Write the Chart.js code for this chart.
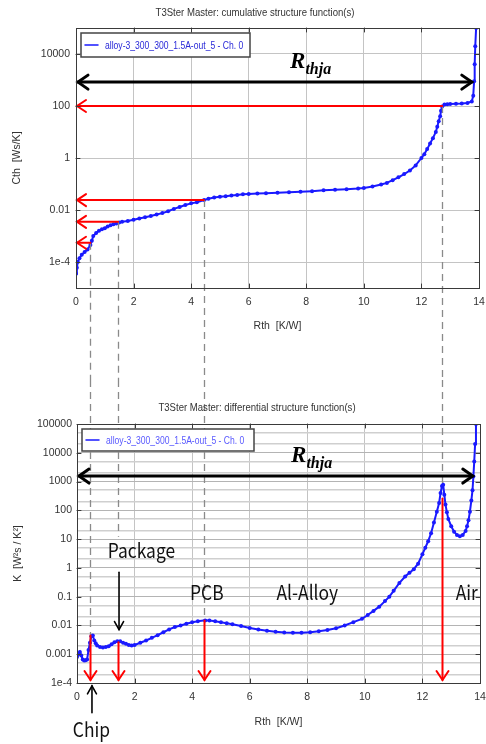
<!DOCTYPE html>
<html>
<head>
<meta charset="utf-8">
<script src="https://cdn.jsdelivr.net/npm/chart.js@4.4.1/dist/chart.umd.min.js"></script>
<style>
  body { margin: 0; background: #fff; }
  canvas { display: block; }
</style>
</head>
<body>
<canvas id="cum" width="486" height="380"></canvas>
<canvas id="diff" width="486" height="364"></canvas>
<script>
// cumulative structure function: Rth [K/W] vs Cth [Ws/K]
const cumRth = [0, 0.03, 0.06, 0.12, 0.2, 0.3, 0.4, 0.5, 0.55, 0.6, 0.7, 0.8, 0.9, 1.0, 1.1, 1.2, 1.3, 1.4, 1.5, 1.6,
  1.8, 2.0, 2.2, 2.4, 2.6, 2.8, 3.0, 3.2, 3.4, 3.6, 3.8, 4.0, 4.2, 4.45, 4.6, 4.8, 5.0, 5.2, 5.4, 5.6,
  5.8, 6.0, 6.3, 6.6, 7.0, 7.4, 7.8, 8.2, 8.6, 9.0, 9.4, 9.8, 10.0, 10.3, 10.6, 10.8, 11.0, 11.2, 11.4, 11.6,
  11.8, 12.0, 12.1, 12.2, 12.3, 12.4, 12.5, 12.55, 12.6, 12.65, 12.68, 12.72, 12.8, 12.9, 13.0, 13.2, 13.4, 13.6, 13.75, 13.8,
  13.83, 13.85, 13.87, 13.9];
const cumCth = [3.5e-5, 6e-5, 1.0e-4, 1.4e-4, 1.9e-4, 2.4e-4, 3.0e-4, 4.5e-4, 6.5e-4, 1.0e-3, 1.3e-3, 1.6e-3, 1.8e-3, 2.0e-3, 2.3e-3, 2.6e-3, 2.8e-3, 3.0e-3, 3.3e-3, 3.5e-3,
  3.8e-3, 4.2e-3, 4.7e-3, 5.3e-3, 5.9e-3, 6.7e-3, 7.6e-3, 9.0e-3, 1.1e-2, 1.3e-2, 1.55e-2, 1.8e-2, 2.0e-2, 2.4e-2, 2.7e-2, 3.0e-2, 3.2e-2, 3.4e-2, 3.6e-2, 3.8e-2,
  4.0e-2, 4.1e-2, 4.3e-2, 4.4e-2, 4.6e-2, 4.8e-2, 5.0e-2, 5.3e-2, 5.7e-2, 6.0e-2, 6.3e-2, 6.7e-2, 7.0e-2, 8.0e-2, 9.5e-2, 0.11, 0.14, 0.18, 0.24, 0.33,
  0.52, 1.0, 1.4, 2.2, 3.6, 5.8, 10, 16, 26, 40, 65, 95, 115, 118, 120, 122, 125, 130, 150, 250,
  900, 4000, 2e4, 1e5];

// differential structure function: Rth [K/W] vs K [W²s/K²]
const diffRth = [0, 0.05, 0.1, 0.15, 0.2, 0.25, 0.3, 0.35, 0.4, 0.45, 0.5, 0.55, 0.6, 0.65, 0.7, 0.8, 0.9, 1.0, 1.1, 1.2,
  1.3, 1.4, 1.5, 1.6, 1.7, 1.8, 1.9, 2.0, 2.2, 2.4, 2.6, 2.8, 3.0, 3.2, 3.4, 3.6, 3.8, 4.0, 4.2, 4.45,
  4.6, 4.8, 5.0, 5.2, 5.4, 5.7, 6.0, 6.3, 6.6, 6.9, 7.2, 7.5, 7.8, 8.1, 8.4, 8.7, 9.0, 9.3, 9.6, 9.9,
  10.1, 10.3, 10.5, 10.7, 10.85, 11.0, 11.2, 11.4, 11.55, 11.7, 11.85, 12.0, 12.1, 12.2, 12.3, 12.4, 12.5, 12.58, 12.63, 12.68,
  12.72, 12.76, 12.8, 12.85, 12.9, 13.0, 13.1, 13.2, 13.3, 13.4, 13.5, 13.55, 13.6, 13.65, 13.7, 13.74, 13.77, 13.8, 13.83, 13.86];
const diffK = [8e-4, 1.0e-3, 1.2e-3, 9e-4, 6.5e-4, 6e-4, 6.2e-4, 6.5e-4, 1.4e-3, 2.5e-3, 4.2e-3, 4.5e-3, 3.0e-3, 2.4e-3, 2.0e-3, 1.8e-3, 1.7e-3, 1.8e-3, 1.9e-3, 2.2e-3,
  2.6e-3, 2.8e-3, 2.8e-3, 2.5e-3, 2.3e-3, 2.1e-3, 2.0e-3, 2.1e-3, 2.5e-3, 3.0e-3, 3.7e-3, 4.6e-3, 5.8e-3, 7.3e-3, 8.8e-3, 1.0e-2, 1.15e-2, 1.3e-2, 1.4e-2, 1.5e-2,
  1.48e-2, 1.4e-2, 1.3e-2, 1.2e-2, 1.1e-2, 9.5e-3, 8.2e-3, 7.2e-3, 6.5e-3, 6.0e-3, 5.7e-3, 5.6e-3, 5.6e-3, 5.8e-3, 6.3e-3, 7.0e-3, 8.0e-3, 1.0e-2, 1.3e-2, 1.7e-2,
  2.3e-2, 3.2e-2, 4.5e-2, 7e-2, 0.1, 0.16, 0.3, 0.5, 0.68, 0.9, 1.4, 3.0, 5, 8.5, 16, 38, 90, 180, 400, 700,
  780, 350, 160, 85, 50, 28, 18, 14, 12.5, 14, 19, 28, 45, 90, 220, 500, 1500, 5000, 2e4, 1e5];

// tick labels
const cumTickValues = [1e-4, 1e-2, 1, 100, 10000];
const cumTickLabels = ['1e-4', '0.01', '1', '100', '10000'];
const diffTickValues = [1e-4, 1e-3, 1e-2, 0.1, 1, 10, 100, 1000, 10000, 100000];
const diffTickLabels = ['1e-4', '0.001', '0.01', '0.1', '1', '10', '100', '1000', '10000', '100000'];
const minorSteps = [2, 5];

// marked layers (Chip, Package, PCB, Air boundary)
const markRth = [0.5, 1.46, 4.44, 12.72];
const markCth = [5.5e-4, 3.5e-3, 2.4e-2, 100];
const dashEndK = [4.5e-3, 12, 1.5e-2, 780];
const redStartK = [4.5e-3, 2.6e-3, 1.5e-2, 260];

const labelText = ['Package', 'PCB', 'Al-Alloy', 'Air', 'Chip'];
const labelRth = [2.24, 4.51, 8.0, 13.54, 0.5];
const labelK = [2.2, 0.077, 0.077, 0.077, 1.3e-6];

const legendText = 'alloy-3_300_300_1.5A-out_5 - Ch. 0';
const BLUE = '#1a1aff';
const SANS = '"Liberation Sans", Arial, sans-serif';

function chevron(ctx, x, y, dx, dy, len, half) {
  const bx = x - dx * len, by = y - dy * len;
  ctx.beginPath();
  ctx.moveTo(bx - dy * half, by + dx * half);
  ctx.lineTo(x, y);
  ctx.lineTo(bx + dy * half, by - dx * half);
  ctx.stroke();
}

function arrow(ctx, x1, y1, x2, y2, len, half, both) {
  ctx.beginPath();
  ctx.moveTo(x1, y1);
  ctx.lineTo(x2, y2);
  ctx.stroke();
  const L = Math.hypot(x2 - x1, y2 - y1);
  const dx = (x2 - x1) / L, dy = (y2 - y1) / L;
  chevron(ctx, x2, y2, dx, dy, len, half);
  if (both) chevron(ctx, x1, y1, -dx, -dy, len, half);
}

// text squeezed horizontally, like the screenshot it comes from
function squeezed(ctx, text, x, y, sx) {
  ctx.save();
  ctx.translate(x, y);
  ctx.scale(sx, 1);
  ctx.fillText(text, 0, 0);
  ctx.restore();
}

function drawLegend(ctx, area, w, h, textColor) {
  const x = area.left + 5, y = area.top + 5;
  ctx.fillStyle = '#fff';
  ctx.fillRect(x, y, w, h);
  ctx.strokeStyle = '#444';
  ctx.lineWidth = 1.5;
  ctx.strokeRect(x, y, w, h);
  ctx.strokeStyle = BLUE;
  ctx.lineWidth = 1.5;
  ctx.beginPath();
  ctx.moveTo(x + 4, y + h / 2);
  ctx.lineTo(x + 17, y + h / 2);
  ctx.stroke();
  ctx.fillStyle = textColor;
  ctx.font = '11px ' + SANS;
  ctx.textAlign = 'left';
  ctx.textBaseline = 'middle';
  squeezed(ctx, legendText, x + 24, y + h / 2 + 1, 0.78);
}

function drawFrame(ctx, chart, xTicks, yTicks) {
  const a = chart.chartArea, sx = chart.scales.x, sy = chart.scales.y;
  ctx.strokeStyle = '#3a3a3a';
  ctx.lineWidth = 1;
  ctx.strokeRect(a.left + 0.5, a.top + 0.5, a.right - a.left, a.bottom - a.top);
  ctx.beginPath();
  xTicks.forEach(v => {
    const x = Math.round(sx.getPixelForValue(v)) + 0.5;
    ctx.moveTo(x, a.bottom); ctx.lineTo(x, a.bottom - 4);
    ctx.moveTo(x, a.top); ctx.lineTo(x, a.top + 4);
  });
  yTicks.forEach(v => {
    const y = Math.round(sy.getPixelForValue(v)) + 0.5;
    ctx.moveTo(a.left, y); ctx.lineTo(a.left + 4, y);
    ctx.moveTo(a.right, y); ctx.lineTo(a.right - 4, y);
  });
  ctx.stroke();
}

function drawTitle(ctx, text, x, y) {
  ctx.fillStyle = '#333';
  ctx.font = '11px ' + SANS;
  ctx.textAlign = 'center';
  ctx.textBaseline = 'middle';
  squeezed(ctx, text, x, y, 0.87);
}

function drawRthja(ctx, x, y) {
  ctx.fillStyle = '#000';
  ctx.textAlign = 'left';
  ctx.textBaseline = 'alphabetic';
  ctx.font = 'italic bold 23px "Liberation Serif", serif';
  const w = ctx.measureText('R').width;
  ctx.font = 'italic bold 16px "Liberation Serif", serif';
  const w2 = ctx.measureText('thja').width;
  const x0 = x - (w + w2) / 2;
  ctx.font = 'italic bold 23px "Liberation Serif", serif';
  ctx.fillText('R', x0, y);
  ctx.font = 'italic bold 16px "Liberation Serif", serif';
  ctx.fillText('thja', x0 + w, y + 6);
}

const xMajor = [2, 4, 6, 8, 10, 12];

const cumDecor = {
  id: 'cumDecor',
  afterDatasetsDraw(chart) {
    const ctx = chart.ctx, a = chart.chartArea, sx = chart.scales.x, sy = chart.scales.y;
    ctx.save();
    // dashed guides
    ctx.strokeStyle = '#8a8a8a';
    ctx.lineWidth = 1.3;
    ctx.setLineDash([7, 5]);
    markRth.forEach((r, i) => {
      const x = Math.round(sx.getPixelForValue(r)) + 0.5;
      ctx.beginPath();
      ctx.moveTo(x, sy.getPixelForValue(markCth[i]));
      ctx.lineTo(x, chart.height);
      ctx.stroke();
    });
    ctx.setLineDash([]);
    // red arrows back to the Cth axis
    ctx.strokeStyle = '#ff0000';
    ctx.lineWidth = 2;
    ctx.lineCap = 'round';
    markRth.forEach((r, i) => {
      const y = sy.getPixelForValue(markCth[i]);
      arrow(ctx, sx.getPixelForValue(r), y, a.left + 1, y, 9, 6, false);
    });
    // Rthja double arrow
    ctx.strokeStyle = '#000';
    ctx.lineWidth = 3;
    const yA = sy.getPixelForValue(830);
    arrow(ctx, a.left + 2, yA, sx.getPixelForValue(13.75), yA, 10, 7, true);
    drawRthja(ctx, sx.getPixelForValue(8.15), sy.getPixelForValue(2900));
    drawLegend(ctx, a, 169, 24, '#2a2ad8');
    drawFrame(ctx, chart, xMajor, cumTickValues);
    drawTitle(ctx, 'T3Ster Master: cumulative structure function(s)', 255, 13);
    ctx.restore();
  }
};

const diffDecor = {
  id: 'diffDecor',
  afterDatasetsDraw(chart) {
    const ctx = chart.ctx, a = chart.chartArea, sx = chart.scales.x, sy = chart.scales.y;
    ctx.save();
    ctx.strokeStyle = '#8a8a8a';
    ctx.lineWidth = 1.3;
    ctx.setLineDash([7, 5]);
    markRth.forEach((r, i) => {
      const x = Math.round(sx.getPixelForValue(r)) - 0.5;
      ctx.beginPath();
      ctx.moveTo(x, 0);
      ctx.lineTo(x, sy.getPixelForValue(dashEndK[i]));
      ctx.stroke();
    });
    ctx.setLineDash([]);
    // red arrows down to the Rth axis
    ctx.strokeStyle = '#ff0000';
    ctx.lineWidth = 2;
    ctx.lineCap = 'round';
    markRth.forEach((r, i) => {
      const x = Math.round(sx.getPixelForValue(r)) - 0.5;
      arrow(ctx, x, sy.getPixelForValue(redStartK[i]), x, a.bottom - 3, 9, 6, false);
    });
    // black arrows
    ctx.strokeStyle = '#000';
    ctx.lineWidth = 3;
    const yA = sy.getPixelForValue(1550);
    arrow(ctx, a.left + 2, yA, sx.getPixelForValue(13.75), yA, 10, 7, true);
    ctx.lineWidth = 1.6;
    const xp = sx.getPixelForValue(1.46);
    arrow(ctx, xp, sy.getPixelForValue(0.7), xp, sy.getPixelForValue(0.0072), 8, 4.5, false);
    const xc = sx.getPixelForValue(0.52);
    arrow(ctx, xc, sy.getPixelForValue(9.3e-6), xc, sy.getPixelForValue(8e-5), 8, 4.5, false);
    drawRthja(ctx, sx.getPixelForValue(8.15), sy.getPixelForValue(4900));
    // layer labels
    ctx.fillStyle = '#111';
    ctx.font = '20px "Noto Sans CJK KR", "Noto Sans", sans-serif';
    ctx.textAlign = 'center';
    ctx.textBaseline = 'alphabetic';
    labelText.forEach((t, i) => {
      squeezed(ctx, t, sx.getPixelForValue(labelRth[i]), sy.getPixelForValue(labelK[i]), 0.87);
    });
    drawLegend(ctx, a, 172, 22, '#5a5aff');
    drawFrame(ctx, chart, xMajor, diffTickValues);
    drawTitle(ctx, 'T3Ster Master: differential structure function(s)', 257, 28);
    ctx.restore();
  }
};

const tickFont = { family: SANS, size: 10.5 };

function xScale(height, pad, titlePad) {
  return {
    type: 'linear', min: 0, max: 14,
    ticks: { stepSize: 2, font: tickFont, color: '#333', padding: pad },
    grid: { color: '#c4c4c4', drawTicks: false },
    border: { color: '#3a3a3a' },
    title: { display: true, text: 'Rth  [K/W]', font: tickFont, color: '#333', padding: { bottom: titlePad } },
    afterFit: s => { s.height = height; s.paddingLeft = 0; s.paddingRight = 0; }
  };
}

function lineDataset(xs, ys) {
  return {
    data: xs.map((x, i) => ({ x, y: ys[i] })),
    borderColor: BLUE,
    backgroundColor: BLUE,
    borderWidth: 2,
    pointRadius: 2,
    pointBorderWidth: 0,
    tension: 0
  };
}

new Chart(document.getElementById('cum'), {
  type: 'line',
  data: { datasets: [lineDataset(cumRth, cumCth)] },
  options: {
    responsive: false,
    animation: false,
    layout: { padding: { top: 28, right: 7, left: 0, bottom: 0 } },
    plugins: { legend: { display: false }, tooltip: { enabled: false } },
    scales: {
      x: xScale(92, 8, 48),
      y: {
        type: 'logarithmic', min: 1e-5, max: 1e5,
        afterBuildTicks: s => { s.ticks = cumTickValues.map(v => ({ value: v, major: true })); },
        ticks: { autoSkip: false, font: tickFont, color: '#333', padding: 6, callback: (v, i) => cumTickLabels[i] },
        grid: { color: '#c4c4c4', drawTicks: false },
        border: { color: '#3a3a3a' },
        title: { display: true, text: 'Cth  [Ws/K]', font: tickFont, color: '#333', padding: { top: 11 } },
        afterFit: s => { s.width = 76; s.paddingTop = 0; s.paddingBottom = 0; }
      }
    }
  },
  plugins: [cumDecor]
});

new Chart(document.getElementById('diff'), {
  type: 'line',
  data: { datasets: [lineDataset(diffRth, diffK)] },
  options: {
    responsive: false,
    animation: false,
    layout: { padding: { top: 44, right: 6, left: 0, bottom: 0 } },
    plugins: { legend: { display: false }, tooltip: { enabled: false } },
    scales: {
      x: xScale(61, 8, 16),
      y: {
        type: 'logarithmic', min: 1e-4, max: 1e5,
        afterBuildTicks: s => {
          const t = [];
          diffTickValues.forEach((v, i) => {
            t.push({ value: v, major: true, label: diffTickLabels[i] });
            if (i < diffTickValues.length - 1) {
              minorSteps.forEach(m => t.push({ value: v * m, major: false, label: '' }));
            }
          });
          s.ticks = t;
        },
        ticks: { autoSkip: false, font: tickFont, color: '#333', padding: 5,
          callback: function (v, i, ticks) { return ticks[i].label; } },
        grid: { color: ctx => (ctx.tick && ctx.tick.major ? '#b4b4b4' : '#cfcfcf'), lineWidth: ctx => (ctx.tick && ctx.tick.major ? 1 : 1.5), drawTicks: false },
        border: { color: '#3a3a3a' },
        title: { display: true, text: 'K  [W²s / K²]', font: tickFont, color: '#333', padding: { top: 12 } },
        afterFit: s => { s.width = 77; s.paddingTop = 0; s.paddingBottom = 0; }
      }
    }
  },
  plugins: [diffDecor]
});
</script>
</body>
</html>
